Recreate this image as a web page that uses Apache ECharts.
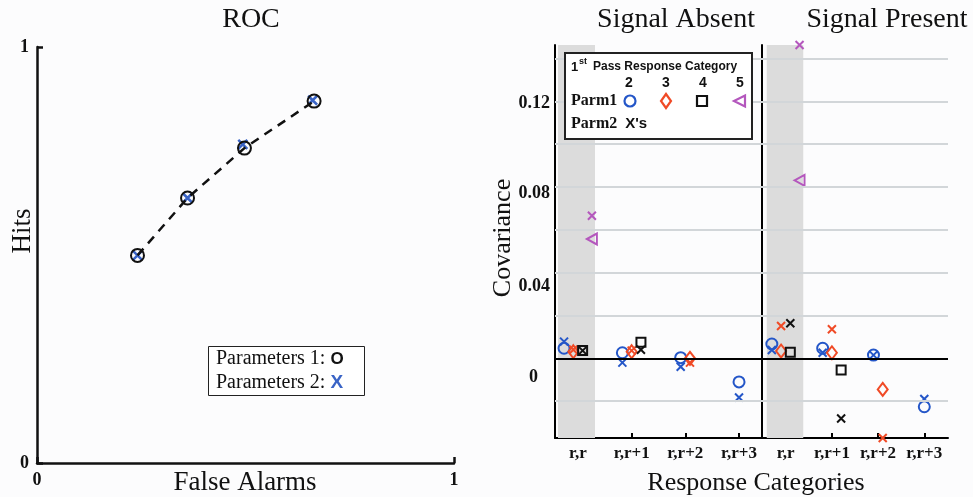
<!DOCTYPE html>
<html>
<head>
<meta charset="utf-8">
<script src="https://cdn.jsdelivr.net/npm/echarts@6/dist/echarts.min.js"></script>
<style>
  html, body { margin: 0; padding: 0; background: #fcfcfd; }
  #main { width: 973px; height: 497px; }
</style>
</head>
<body>
<div id="main"></div>
<script>
// ROC panel
const falseAlarms1 = [0.241, 0.361, 0.4975, 0.6645];
const hits1 = [0.499, 0.637, 0.757, 0.870];
const falseAlarms2 = [0.241, 0.361, 0.4935, 0.661];
const hits2 = [0.499, 0.637, 0.766, 0.872];

// covariance panels: rows = 1st pass response category 2..5, cols = responseCats
const responseCats = ['r,r', 'r,r+1', 'r,r+2', 'r,r+3'];
const passCats = ['2', '3', '4', '5'];

const absentParm1 = [
  [0.0047, 0.0026, 0.0003, -0.0110],
  [0.0031, 0.0031, 0.0000, null],
  [0.0036, 0.0075, null, null],
  [0.0557, null, null, null]
];
const absentParm2 = [
  [0.0078, -0.0020, -0.0039, -0.0183],
  [0.0040, 0.0036, -0.0020, null],
  [0.0036, 0.0040, null, null],
  [0.0666, null, null, null]
];
const presentParm1 = [
  [0.0067, 0.0047, 0.0015, -0.0226],
  [0.0034, 0.0026, -0.0145, null],
  [0.0028, -0.0055, null, null],
  [0.0831, null, null, null]
];
const presentParm2 = [
  [0.0039, 0.0026, 0.0015, -0.0190],
  [0.0151, 0.0136, -0.0372, null],
  [0.0164, -0.0281, null, null],
  [0.1463, null, null, null]
];

const yTicks = [-0.02, 0, 0.02, 0.04, 0.06, 0.08, 0.10, 0.12, 0.14];
const yLabels = [0, 0.04, 0.08, 0.12];

const SERIF = 'Liberation Serif';
const SANS = 'Liberation Sans';
const colors = ['#2456c8', '#f04a26', '#111111', '#b457bd'];
const shapes = ['circle', 'diamond', 'rect', 'triangle'];
const sizes = [[11, 11], [10, 13], [9, 9], [11, 10]];
const xMark = 'path://M0,0L10,10M0,10L10,0';
const Y_MIN = -0.0372, Y_MAX = 0.1463;

// x offsets so the present categories sit centered round each tick
function dodge(p1, step) {
  const xs = p1.map(() => []);
  responseCats.forEach((c, i) => {
    const present = p1.map((row, k) => k).filter(k => p1[k][i] != null);
    present.forEach((k, r) => { xs[k][i] = i + (r - (present.length - 1) / 2) * step; });
  });
  return xs;
}

function panelSeries(p1, p2, axis, step, band) {
  const xs = dodge(p1, step);
  const out = [{
    type: 'scatter', xAxisIndex: axis, yAxisIndex: axis, data: [], silent: true,
    markArea: {
      silent: true,
      itemStyle: { color: '#dcdcdc' },
      data: [[{ xAxis: band[0], yAxis: Y_MIN }, { xAxis: band[1], yAxis: Y_MAX }]]
    },
    markLine: {
      silent: true, symbol: 'none', label: { show: false },
      lineStyle: { color: '#d2d6d9', width: 2, type: 'solid' },
      data: yTicks.filter(v => v !== 0).map(v => ({ yAxis: v }))
    }
  }, {
    type: 'scatter', xAxisIndex: axis, yAxisIndex: axis, data: [], silent: true,
    markLine: {
      silent: true, symbol: 'none', label: { show: false },
      lineStyle: { color: '#000', width: 2, type: 'solid' },
      data: [{ yAxis: 0 }]
    }
  }];
  passCats.forEach((c, k) => {
    const pts1 = [], pts2 = [];
    p1[k].forEach((v, i) => { if (v != null) pts1.push([xs[k][i], v]); });
    p2[k].forEach((v, i) => { if (v != null) pts2.push([xs[k][i], v]); });
    out.push({
      type: 'scatter', xAxisIndex: axis, yAxisIndex: axis, clip: false, data: pts1,
      symbol: shapes[k], symbolSize: sizes[k], symbolRotate: k === 3 ? 90 : 0,
      itemStyle: { color: 'rgba(0,0,0,0)', borderColor: colors[k], borderWidth: 2, opacity: 1 }
    });
    out.push({
      type: 'scatter', xAxisIndex: axis, yAxisIndex: axis, clip: false, data: pts2,
      symbol: xMark, symbolSize: 8,
      itemStyle: { color: colors[k], borderColor: colors[k], borderWidth: 2, opacity: 1 }
    });
  });
  return out;
}

const catXAxis = (grid, min, max) => ({
  type: 'value', gridIndex: grid, min: min, max: max, splitLine: { show: false },
  axisLine: { show: true, onZero: false, lineStyle: { color: '#000', width: 2 } },
  axisTick: { show: true, inside: true, length: 5, customValues: [0, 1, 2, 3], lineStyle: { color: '#000', width: 2 } },
  axisLabel: {
    customValues: [0, 1, 2, 3], margin: 7, formatter: v => responseCats[v],
    fontFamily: SERIF, fontWeight: 'bold', fontSize: 17, color: '#111'
  }
});

const rocAxis = (grid) => ({
  type: 'value', gridIndex: grid, min: 0, max: 1, interval: 1, splitLine: { show: false },
  axisLine: { lineStyle: { color: '#111', width: 2.5 } },
  axisTick: { inside: true, length: 6, lineStyle: { color: '#111', width: 2.5 } },
  axisLabel: { fontFamily: SERIF, fontWeight: 'bold', fontSize: 18, color: '#111', margin: 8 }
});

// the reference's covariance labels sit a little below their ticks
const labelRich = {
  l0: { padding: [38, 12, 0, 0] },
  l4: { padding: [28, 0, 0, 0] },
  l8: { padding: [12, 0, 0, 0] },
  l12: { padding: [4, 0, 0, 0] }
};

const titleStyle = { fontFamily: SERIF, fontSize: 28, fontWeight: 'normal', color: '#111' };
const nameStyle = Object.assign({}, titleStyle, { fontSize: 27 });
const gridBase = { outerBoundsMode: 'none', containLabel: false };

const option = {
  backgroundColor: '#fcfcfd',
  animation: false,
  title: [
    { text: 'ROC', left: 246, top: 1, textAlign: 'center', textStyle: titleStyle },
    { text: 'Signal Absent', left: 671, top: 1, textAlign: 'center', textStyle: titleStyle },
    { text: 'Signal Present', left: 882, top: 1, textAlign: 'center', textStyle: titleStyle },
    { text: 'False Alarms', left: 240, top: 464, textAlign: 'center', textStyle: nameStyle },
    { text: 'Response Categories', left: 751, top: 465, textAlign: 'center', textStyle: Object.assign({}, titleStyle, { fontSize: 26 }) }
  ],
  grid: [
    Object.assign({ left: 37, top: 47, width: 417, height: 416 }, gridBase),
    Object.assign({ left: 555, top: 45, width: 207, height: 393 }, gridBase),
    Object.assign({ left: 762, top: 45, width: 186, height: 393 }, gridBase)
  ],
  xAxis: [
    rocAxis(0),
    catXAxis(1, -0.428, 3.428),
    catXAxis(2, -0.513, 3.513)
  ],
  yAxis: [
    rocAxis(0),
    {
      type: 'value', gridIndex: 1, min: Y_MIN, max: Y_MAX, splitLine: { show: false },
      axisLine: { show: true, onZero: false, lineStyle: { color: '#000', width: 2 } },
      axisTick: { show: true, inside: true, length: 5, customValues: yTicks, lineStyle: { color: '#000', width: 2 } },
      axisLabel: {
        customValues: yLabels, margin: 5,
        formatter: v => {
          const key = 'l' + Math.round(v * 100);
          return '{' + key + '|' + (v === 0 ? '0' : v.toFixed(2)) + '}';
        },
        rich: labelRich,
        fontFamily: SERIF, fontWeight: 'bold', fontSize: 18, color: '#111'
      }
    },
    {
      type: 'value', gridIndex: 2, min: Y_MIN, max: Y_MAX, splitLine: { show: false },
      axisLine: { show: true, onZero: false, lineStyle: { color: '#000', width: 2 } },
      axisTick: { show: false }, axisLabel: { show: false }
    }
  ],
  series: [
    {
      type: 'line', xAxisIndex: 0, yAxisIndex: 0,
      data: falseAlarms1.map((x, i) => [x, hits1[i]]),
      lineStyle: { color: '#111', width: 2.5, type: [9, 7] },
      symbol: 'circle', symbolSize: 13, showSymbol: true,
      itemStyle: { color: 'rgba(0,0,0,0)', borderColor: '#111', borderWidth: 2 }
    },
    {
      type: 'scatter', xAxisIndex: 0, yAxisIndex: 0,
      data: falseAlarms2.map((x, i) => [x, hits2[i]]),
      symbol: xMark, symbolSize: 9,
      itemStyle: { color: '#3a64c6', borderColor: '#3a64c6', borderWidth: 2.5, opacity: 1 }
    }
  ]
    .concat(panelSeries(absentParm1, absentParm2, 1, 0.173, [-0.372, 0.317]))
    .concat(panelSeries(presentParm1, presentParm2, 2, 0.2, [-0.41, 0.38])),
  graphic: [
    // axis titles
    { type: 'text', x: 23, y: 231, rotation: Math.PI / 2,
      style: { text: 'Hits', font: '27px "' + SERIF + '"', fill: '#111', align: 'center', verticalAlign: 'middle' } },
    { type: 'text', x: 503, y: 238, rotation: Math.PI / 2,
      style: { text: 'Covariance', font: '26px "' + SERIF + '"', fill: '#111', align: 'center', verticalAlign: 'middle' } },
    // ROC legend
    { type: 'rect', z: 100, shape: { x: 208.5, y: 346.5, width: 156, height: 49 },
      style: { fill: '#fff', stroke: '#222', lineWidth: 1 } },
    { type: 'text', z: 101, x: 216, y: 359,
      style: { text: 'Parameters 1: {o|O}', font: '20px "' + SERIF + '"', fill: '#111', verticalAlign: 'middle',
        rich: { o: { fontFamily: SANS, fontWeight: 'bold', fontSize: 17, fill: '#111' } } } },
    { type: 'text', z: 101, x: 216, y: 383,
      style: { text: 'Parameters 2: {x|X}', font: '20px "' + SERIF + '"', fill: '#111', verticalAlign: 'middle',
        rich: { x: { fontFamily: SANS, fontWeight: 'bold', fontSize: 19, fill: '#3a64c6' } } } },
    // covariance legend
    { type: 'rect', z: 100, shape: { x: 565, y: 53, width: 187, height: 86 },
      style: { fill: '#fff', stroke: '#222', lineWidth: 2 } },
    { type: 'text', z: 101, x: 571, y: 67,
      style: { text: '1', font: 'bold 13px "' + SANS + '"', fill: '#111', verticalAlign: 'middle' } },
    { type: 'text', z: 101, x: 579, y: 62,
      style: { text: 'st', font: 'bold 9px "' + SANS + '"', fill: '#111', verticalAlign: 'middle' } },
    { type: 'text', z: 101, x: 593, y: 67,
      style: { text: 'Pass Response Category', font: 'bold 12px "' + SANS + '"', fill: '#111', verticalAlign: 'middle' } }
  ].concat(passCats.map((c, k) => ({
    type: 'text', z: 101, x: [629, 666, 703, 740][k], y: 83,
    style: { text: c, font: 'bold 14px "' + SANS + '"', fill: '#111', align: 'center', verticalAlign: 'middle' }
  }))).concat([
    { type: 'text', z: 101, x: 571, y: 101,
      style: { text: 'Parm1', font: 'bold 16px "' + SERIF + '"', fill: '#111', verticalAlign: 'middle' } },
    { type: 'text', z: 101, x: 571, y: 124,
      style: { text: 'Parm2  {s|X\'s}', font: 'bold 16px "' + SERIF + '"', fill: '#111', verticalAlign: 'middle',
        rich: { s: { fontFamily: SANS, fontWeight: 'bold', fontSize: 15, fill: '#111' } } } },
    { type: 'circle', z: 101, shape: { cx: 630, cy: 101, r: 5.5 },
      style: { fill: 'none', stroke: colors[0], lineWidth: 2.2 } },
    { type: 'polygon', z: 101, shape: { points: [[666, 94], [671, 101], [666, 108], [661, 101]] },
      style: { fill: 'none', stroke: colors[1], lineWidth: 2.2 } },
    { type: 'rect', z: 101, shape: { x: 697, y: 96, width: 10, height: 10 },
      style: { fill: 'none', stroke: colors[2], lineWidth: 2.2 } },
    { type: 'polygon', z: 101, shape: { points: [[734, 101], [745, 95.5], [745, 106.5]] },
      style: { fill: 'none', stroke: colors[3], lineWidth: 2.2 } }
  ])
};

const chart = echarts.init(document.getElementById('main'));
chart.setOption(option);
</script>
</body>
</html>
